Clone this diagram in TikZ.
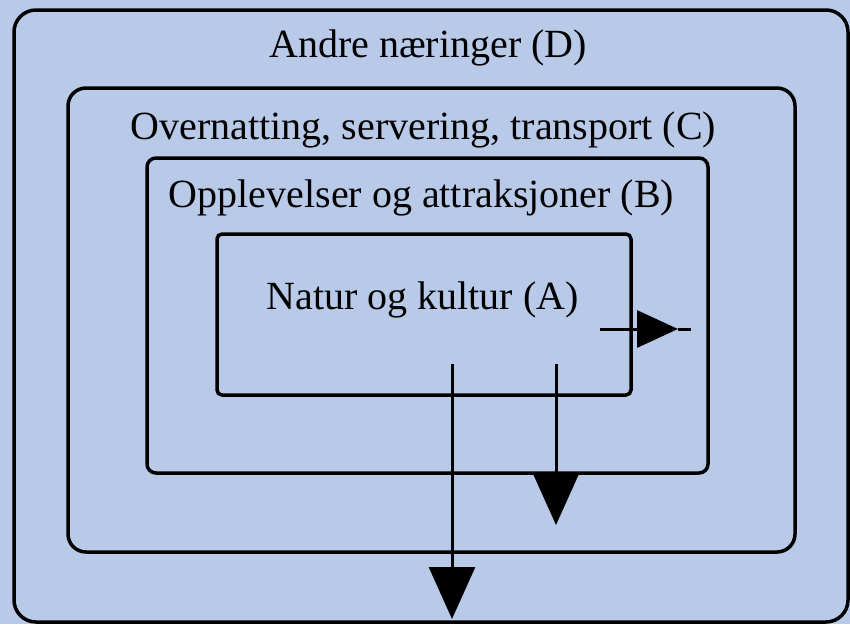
\documentclass[tikz,border=0pt]{standalone}
\usepackage{fontspec}
\setmainfont{Liberation Serif}
\usetikzlibrary{arrows.meta}
\definecolor{bgblue}{RGB}{185,201,232}
\begin{document}
\begin{tikzpicture}[x=1pt,y=-1pt,
	box/.style={draw,line width=3.5pt,inner sep=0,outer sep=0},
	lbl/.style={inner sep=0,anchor=base,font=\fontsize{40}{40}\selectfont},
	arr/.style={line width=3pt}]
	\fill[bgblue] (0,0) rectangle (850,624);
	\useasboundingbox (0,0) rectangle (850,624);
	\node[box,rounded corners=22pt,minimum width=834pt,minimum height=612pt] (D) at (431,316) {};
	\node[box,rounded corners=18pt,minimum width=727pt,minimum height=464pt] (C) at (431.5,320) {};
	\node[box,rounded corners=9pt,minimum width=561pt,minimum height=315pt] (B) at (427.5,315.5) {};
	\node[box,rounded corners=5pt,minimum width=414pt,minimum height=161pt] (A) at (424,314.5) {};
	\node[lbl] (Dl) at (428,57) {Andre næringer (D)};
	\node[lbl] (Cl) at (423.5,139) {Overnatting, servering, transport (C)};
	\node[lbl] (Bl) at (421.5,207) {Opplevelser og attraksjoner (B)};
	\node[lbl] (Al) at (422.5,309) {Natur og kultur (A)};
	\coordinate (r0) at (600,329);
	\coordinate (r1) at (678,329);
	\coordinate (r2) at (691,329);
	\coordinate (d0) at (452,364);
	\coordinate (d1) at (452,619);
	\coordinate (e0) at (556,364);
	\coordinate (e1) at (556,525);
	\draw[arr] (r1) -- (r2);
	\draw[arr,-{Triangle[length=41pt,width=37pt]}] (r0) -- (r1);
	\draw[arr,-{Triangle[length=52pt,width=46pt]}] (d0) -- (d1);
	\draw[arr,-{Triangle[length=52pt,width=46pt]}] (e0) -- (e1);
\end{tikzpicture}
\end{document}
